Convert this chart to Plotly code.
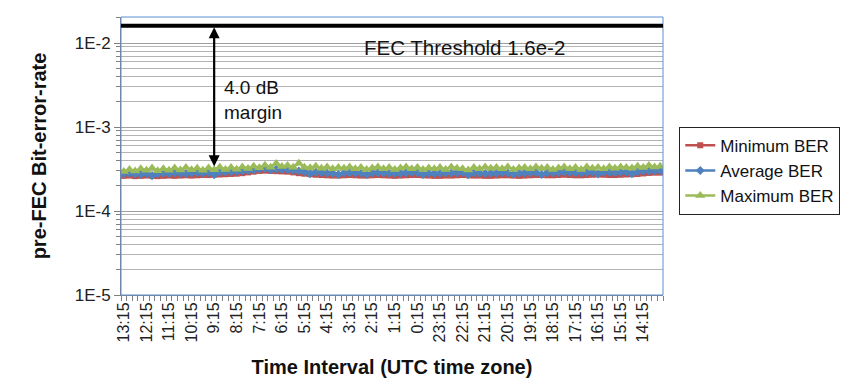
import math
import plotly.graph_objects as go

# ---- data ----
time_labels = [
    "13:15", "13:00", "12:45", "12:30", "12:15", "12:00", "11:45", "11:30",
    "11:15", "11:00", "10:45", "10:30", "10:15", "10:00", "9:45", "9:30",
    "9:15", "9:00", "8:45", "8:30", "8:15", "8:00", "7:45", "7:30",
    "7:15", "7:00", "6:45", "6:30", "6:15", "6:00", "5:45", "5:30",
    "5:15", "5:00", "4:45", "4:30", "4:15", "4:00", "3:45", "3:30",
    "3:15", "3:00", "2:45", "2:30", "2:15", "2:00", "1:45", "1:30",
    "1:15", "1:00", "0:45", "0:30", "0:15", "0:00", "23:45", "23:30",
    "23:15", "23:00", "22:45", "22:30", "22:15", "22:00", "21:45", "21:30",
    "21:15", "21:00", "20:45", "20:30", "20:15", "20:00", "19:45", "19:30",
    "19:15", "19:00", "18:45", "18:30", "18:15", "18:00", "17:45", "17:30",
    "17:15", "17:00", "16:45", "16:30", "16:15", "16:00", "15:45", "15:30",
    "15:15", "15:00", "14:45", "14:30", "14:15", "14:00", "13:45", "13:30",
]
shown_tick_labels = [
    "13:15", "12:15", "11:15", "10:15", "9:15", "8:15", "7:15", "6:15",
    "5:15", "4:15", "3:15", "2:15", "1:15", "0:15", "23:15", "22:15",
    "21:15", "20:15", "19:15", "18:15", "17:15", "16:15", "15:15", "14:15",
]

# BER values in units of 1e-4
min_ber = [
    2.62, 2.64, 2.60, 2.62, 2.64, 2.62, 2.60, 2.62,
    2.64, 2.62, 2.64, 2.66, 2.64, 2.66, 2.68, 2.68,
    2.70, 2.72, 2.74, 2.76, 2.78, 2.82, 2.88, 2.94,
    3.00, 3.02, 3.00, 2.98, 2.96, 2.94, 2.88, 2.82,
    2.78, 2.74, 2.70, 2.68, 2.66, 2.64, 2.64, 2.66,
    2.68, 2.66, 2.64, 2.64, 2.66, 2.68, 2.66, 2.64,
    2.62, 2.64, 2.66, 2.68, 2.68, 2.66, 2.64, 2.62,
    2.62, 2.64, 2.64, 2.66, 2.68, 2.66, 2.64, 2.64,
    2.62, 2.62, 2.64, 2.66, 2.66, 2.64, 2.62, 2.64,
    2.66, 2.68, 2.68, 2.66, 2.66, 2.68, 2.70, 2.68,
    2.66, 2.66, 2.68, 2.70, 2.72, 2.70, 2.68, 2.68,
    2.70, 2.72, 2.74, 2.76, 2.80, 2.84, 2.86, 2.86,
]
avg_ber = [
    2.78, 2.82, 2.76, 2.74, 2.80, 2.64, 2.78, 2.82,
    2.80, 2.84, 2.82, 2.78, 2.84, 2.86, 2.82, 2.88,
    2.70, 2.90, 2.92, 2.94, 2.96, 3.00, 3.04, 3.08,
    3.16, 3.20, 3.10, 3.14, 3.12, 3.10, 3.04, 3.00,
    2.94, 2.78, 2.90, 2.86, 2.84, 2.82, 2.72, 2.84,
    2.86, 2.84, 2.82, 2.72, 2.84, 2.86, 2.84, 2.82,
    2.80, 2.82, 2.86, 2.88, 2.86, 2.72, 2.82, 2.80,
    2.82, 2.84, 2.84, 2.86, 2.88, 2.70, 2.84, 2.82,
    2.80, 2.82, 2.84, 2.86, 2.84, 2.74, 2.82, 2.84,
    2.86, 2.88, 2.72, 2.86, 2.86, 2.88, 2.90, 2.88,
    2.86, 2.84, 2.88, 2.90, 2.76, 2.90, 2.88, 2.86,
    2.90, 2.92, 2.78, 2.94, 2.98, 3.00, 3.02, 3.02,
]
max_ber = [
    2.95, 3.12, 3.00, 3.18, 3.05, 3.25, 3.02, 3.18,
    3.05, 3.26, 3.08, 3.30, 3.10, 3.22, 3.05, 3.25,
    3.10, 3.32, 3.12, 3.30, 3.15, 3.35, 3.20, 3.40,
    3.28, 3.50, 3.32, 3.68, 3.38, 3.48, 3.32, 3.70,
    3.32, 3.28, 3.40, 3.22, 3.35, 3.18, 3.30, 3.22,
    3.35, 3.18, 3.30, 3.12, 3.25, 3.35, 3.18, 3.30,
    3.12, 3.25, 3.35, 3.18, 3.30, 3.12, 3.25, 3.18,
    3.30, 3.12, 3.35, 3.22, 3.18, 3.08, 3.30, 3.18,
    3.35, 3.22, 3.30, 3.18, 3.35, 3.12, 3.25, 3.30,
    3.18, 3.35, 3.22, 3.30, 3.12, 3.25, 3.35, 3.18,
    3.30, 3.12, 3.35, 3.22, 3.30, 3.18, 3.35, 3.22,
    3.35, 3.30, 3.25, 3.40, 3.30, 3.48, 3.35, 3.40,
]
unit = 1e-4
fec_threshold = 1.6e-2
margin_arrow_bottom = 3.4e-4
margin_arrow_time = "9:15"
y_tick_vals = [1e-5, 1e-4, 1e-3, 1e-2]
y_tick_text = ["1E-5", "1E-4", "1E-3", "1E-2"]
y_minor_grid = [
    2e-5, 3e-5, 4e-5, 5e-5, 6e-5, 7e-5, 8e-5, 9e-5,
    2e-4, 3e-4, 4e-4, 5e-4, 6e-4, 7e-4, 8e-4, 9e-4,
    2e-3, 3e-3, 4e-3, 5e-3, 6e-3, 7e-3, 8e-3, 9e-3,
    2e-2,
]

FONT = "Arial, Liberation Sans, sans-serif"

fig = go.Figure()
series = [
    ("Minimum BER", min_ber, "#c0504d", "square", 6),
    ("Average BER", avg_ber, "#4f81bd", "diamond", 7),
    ("Maximum BER", max_ber, "#9bbb59", "triangle-up", 9),
]
for name, vals, color, sym, ms in series:
    fig.add_trace(go.Scatter(
        x=time_labels, y=[v * unit for v in vals], name=name, mode="lines+markers",
        line=dict(color=color, width=2.5), marker=dict(symbol=sym, size=ms, color=color),
    ))

tick_text_all = [t if t in shown_tick_labels and i % 4 == 0 else "" for i, t in enumerate(time_labels)]

# page has an 8px body margin, so the figure is 842x384 with an offset of 8px
fig.update_layout(
    width=842, height=384,
    margin=dict(l=113, r=187, t=9, b=97, autoexpand=False),
    paper_bgcolor="white", plot_bgcolor="white",
    font=dict(family=FONT, color="#222222"),
    legend=dict(
        x=1.03, y=0.605, xanchor="left", yanchor="top",
        bordercolor="#222222", borderwidth=1,
        font=dict(size=17, family=FONT, color="#111111"),
        tracegroupgap=0, itemwidth=30,
    ),
    xaxis=dict(
        type="category", tickmode="array", tickvals=time_labels, ticktext=tick_text_all,
        tickson="boundaries", ticks="outside", ticklen=5, tickcolor="#808080",
        tickangle=-90, tickfont=dict(size=16, family=FONT, color="#222222"),
        showgrid=False, showline=True, linecolor="#808080", linewidth=1,
        range=[-0.5, len(time_labels) - 0.5],
        title=dict(text="<b>Time Interval (UTC time zone)</b>", font=dict(size=20, family=FONT, color="#111111"), standoff=18),
    ),
    yaxis=dict(
        type="log", range=[-5, math.log10(2.04e-2)],
        tickmode="array", tickvals=y_tick_vals, ticktext=y_tick_text,
        tickfont=dict(size=17, family=FONT, color="#222222"),
        ticks="outside", ticklen=6, tickcolor="#808080",
        showgrid=True, gridcolor="#a0a0a0", gridwidth=1,
        minor=dict(tickmode="array", tickvals=y_minor_grid, showgrid=True,
                   gridcolor="#b4b4b4", gridwidth=1,
                   ticks="outside", ticklen=4, tickcolor="#808080"),
        showline=True, linecolor="#808080", linewidth=1,
        title=dict(text="<b>pre-FEC Bit-error-rate</b>", font=dict(size=20, family=FONT, color="#111111"), standoff=22),
    ),
)

# plot-area border (top/right blue in reference)
fig.add_shape(type="rect", xref="paper", yref="paper", x0=0, x1=1, y0=0, y1=1,
              line=dict(color="#5b8fd6", width=1), layer="above")
# white box behind the threshold label
fig.add_shape(type="rect", xref="paper", yref="paper", x0=0.435, x1=0.860, y0=0.835, y1=0.924,
              fillcolor="white", line=dict(width=0), layer="between")
# FEC threshold line
fig.add_shape(type="line", xref="paper", yref="y", x0=0, x1=1, y0=fec_threshold, y1=fec_threshold,
              line=dict(color="black", width=4), layer="above")

fig.add_annotation(x=0.445, y=0.892, xref="paper", yref="paper", xanchor="left", yanchor="middle",
                   text="FEC Threshold 1.6e-2", showarrow=False,
                   font=dict(size=20.5, family=FONT, color="#111111"))

# double-headed margin arrow
fig.add_annotation(x=margin_arrow_time, y=math.log10(margin_arrow_bottom), xref="x", yref="y",
                   ax=margin_arrow_time, ay=math.log10(fec_threshold), axref="x", ayref="y",
                   text="", showarrow=True, arrowhead=2, arrowsize=1, arrowwidth=2.2,
                   arrowcolor="black", arrowside="end+start")
fig.add_annotation(x=0.186, y=0.703, xref="paper", yref="paper", xanchor="left", yanchor="middle",
                   text="4.0 dB<br>margin", showarrow=False, align="left",
                   font=dict(size=19, family=FONT, color="#111111"))

fig.write_html("out.html")
